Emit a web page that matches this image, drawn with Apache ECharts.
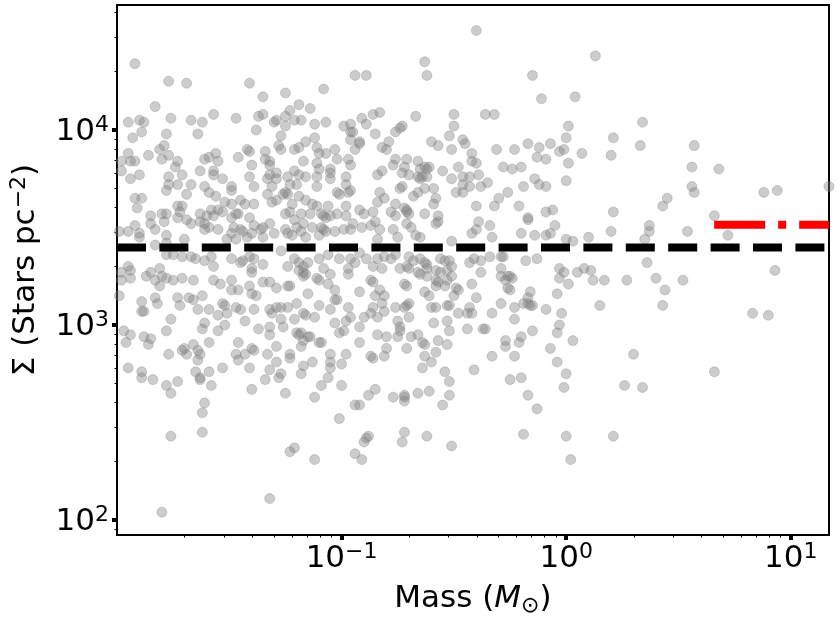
<!DOCTYPE html>
<html>
<head>
<meta charset="utf-8">
<script src="https://cdn.jsdelivr.net/npm/echarts@6/dist/echarts.min.js"></script>
<style>
  html, body { margin: 0; padding: 0; background: #fff; }
  #chart { width: 836px; height: 622px; }
</style>
</head>
<body>
<div id="chart"></div>
<script>
// every star as [log10(mass / Msun), log10(Sigma / stars pc^-2)]
var starsLog = [
  [-1.92,4.34],[-1.77,4.25],[-1.69,4.24],[-1.41,4.24],[-1.35,4.17],[-1.25,4.19],[-1.08,4.21],[-0.94,4.28],
  [-1.83,4.12],[-1.76,4.06],[-1.95,4.04],[-1.90,4.05],[-1.88,4.04],[-1.67,4.05],[-1.62,4.04],[-1.57,4.08],
  [-1.47,4.06],[-1.37,4.07],[-1.35,4.08],[-1.30,4.04],[-1.29,4.05],[-1.25,4.07],[-1.23,4.10],[-1.19,4.13],
  [-1.14,4.11],[-1.21,4.05],[-1.18,4.05],[-1.25,4.02],[-1.12,4.03],[-1.07,4.04],[-0.99,4.02],[-0.96,4.03],
  [-1.89,3.99],[-1.78,3.98],[-1.64,3.98],[-1.38,4.00],[-1.27,3.97],[-1.12,3.96],[-0.96,3.99],[-0.95,3.99],
  [-0.96,3.95],[-1.93,3.96],[-1.95,3.88],[-1.86,3.87],[-1.81,3.90],[-1.79,3.92],[-1.80,3.85],[-1.77,3.87],
  [-1.73,3.84],[-1.74,3.81],[-1.98,3.84],[-1.94,3.84],[-1.92,3.84],[-1.98,3.79],[-1.94,3.75],[-1.90,3.77],
  [-1.77,3.76],[-1.71,3.77],[-1.63,3.79],[-1.61,3.85],[-1.59,3.86],[-1.56,3.88],[-1.55,3.84],[-1.57,3.79],
  [-1.57,3.77],[-1.53,3.75],[-1.46,3.86],[-1.42,3.90],[-1.41,3.89],[-1.40,3.82],[-1.34,3.89],[-1.34,3.85],
  [-1.32,3.84],[-1.32,3.82],[-1.28,3.92],[-1.27,3.90],[-1.21,3.90],[-1.19,3.91],[-1.16,3.94],[-1.11,3.91],
  [-1.10,3.88],[-1.07,3.88],[-1.03,3.90],[-1.02,3.85],[-0.97,3.85],[-0.94,3.90],[-0.96,3.82],[-1.17,3.84],
  [-1.11,3.83],[-1.10,3.80],[-1.05,3.80],[-1.05,3.78],[-1.21,3.79],[-1.19,3.77],[-1.16,3.76],[-1.11,3.76],
  [-1.05,3.75],[-0.98,3.76],[-1.41,3.76],[-1.32,3.77],[-1.29,3.78],[-1.29,3.75],[-1.24,3.76],[-1.33,3.75],
  [-0.40,4.51],[-0.63,4.35],[-0.62,4.28],[-0.89,4.28],[-0.15,4.28],[-0.11,4.16],[0.04,4.17],[0.13,4.38],
  [-0.91,4.06],[-0.86,4.08],[-0.83,4.09],[-0.89,4.03],[-0.67,4.07],[-0.50,4.08],[-0.36,4.08],[-0.32,4.08],
  [-0.50,4.02],[-0.52,3.97],[0.01,4.02],[0.00,3.96],[-0.85,3.98],[-0.76,3.99],[-0.73,4.02],[-0.74,4.01],
  [-0.92,3.94],[-0.92,3.93],[-0.79,3.94],[-0.82,3.91],[-0.80,3.90],[-0.76,3.85],[-0.71,3.85],[-0.77,3.82],
  [-0.72,3.81],[-0.73,3.78],[-0.70,3.77],[-0.82,3.79],[-0.84,3.77],[-0.66,3.84],[-0.65,3.80],[-0.63,3.81],
  [-0.62,3.80],[-0.61,3.81],[-0.66,3.76],[-0.65,3.75],[-0.64,3.76],[-0.62,3.76],[-0.60,3.94],[-0.57,3.92],
  [-0.51,3.90],[-0.46,3.95],[-0.45,3.93],[-0.42,3.88],[-0.42,3.84],[-0.40,3.83],[-0.48,3.81],[-0.55,3.79],
  [-0.51,3.75],[-0.46,3.76],[-0.43,3.76],[-0.39,3.77],[-0.35,3.73],[-0.31,3.90],[-0.23,3.90],[-0.17,3.93],
  [-0.12,3.91],[-0.07,3.93],[-0.03,3.89],[-0.01,3.90],[0.07,3.88],[-0.13,3.86],[-0.09,3.85],[0.01,3.83],
  [-0.28,3.81],[-0.24,3.80],[-0.20,3.81],[-0.14,3.75],[0.00,3.74],
  [0.34,4.04],[0.21,3.96],[0.33,3.92],[0.20,3.87],[0.57,3.92],[0.56,3.81],[0.68,3.80],
  [-1.77,3.72],[-1.73,3.72],[-1.67,3.72],[-1.61,3.71],[-1.49,3.71],[-1.49,3.69],[-1.39,3.71],[-1.31,3.71],
  [-1.23,3.72],[-1.20,3.72],[-1.11,3.71],[-0.98,3.72],[-1.78,3.69],[-1.69,3.67],[-1.59,3.68],[-1.56,3.66],
  [-1.45,3.64],[-1.33,3.67],[-1.26,3.67],[-1.25,3.68],[-1.24,3.67],[-1.19,3.66],[-1.16,3.64],[-1.02,3.68],
  [-1.01,3.67],[-0.97,3.68],[-0.96,3.69],[-1.92,3.65],[-1.89,3.65],[-1.91,3.60],[-1.52,3.63],[-1.49,3.62],
  [-1.43,3.62],[-1.39,3.62],[-1.31,3.63],[-1.29,3.64],[-1.22,3.62],[-1.13,3.62],[-1.11,3.61],[-1.06,3.61],
  [-0.98,3.61],[-1.73,3.61],[-1.71,3.61],[-1.72,3.58],[-1.85,3.56],[-1.80,3.57],[-1.78,3.57],[-1.79,3.53],
  [-1.85,3.52],[-1.92,3.51],[-1.99,3.48],[-1.95,3.48],[-1.90,3.47],[-1.90,3.45],[-1.83,3.49],[-1.78,3.46],
  [-1.73,3.55],[-1.69,3.54],[-1.67,3.52],[-1.63,3.57],[-1.63,3.53],[-1.61,3.52],[-1.60,3.56],[-1.58,3.59],
  [-1.57,3.56],[-1.55,3.59],[-1.53,3.58],[-1.55,3.49],[-1.61,3.49],[-1.59,3.50],[-1.49,3.55],[-1.47,3.57],
  [-1.46,3.57],[-1.48,3.50],[-1.45,3.49],[-1.44,3.48],[-1.49,3.47],[-1.51,3.44],[-1.41,3.55],[-1.39,3.51],
  [-1.35,3.50],[-1.36,3.49],[-1.32,3.52],[-1.30,3.47],[-1.40,3.47],[-1.35,3.45],[-1.25,3.57],[-1.23,3.58],
  [-1.21,3.54],[-1.18,3.57],[-1.20,3.50],[-1.17,3.52],[-1.18,3.48],[-1.25,3.49],[-1.24,3.47],[-1.22,3.46],
  [-1.14,3.57],[-1.09,3.57],[-1.08,3.56],[-1.07,3.55],[-1.05,3.56],[-1.02,3.57],[-0.98,3.56],[-1.13,3.50],
  [-1.09,3.50],[-1.08,3.49],[-1.07,3.48],[-1.03,3.48],[-0.99,3.49],[-0.95,3.52],[-0.96,3.49],[-1.16,3.45],
  [-1.10,3.46],[-1.42,3.45],[-1.47,3.44],[-1.70,3.44],[-1.78,3.42],[-1.83,3.41],
  [-1.78,3.36],[-1.75,3.36],[-1.71,3.35],[-1.67,3.35],[-1.65,3.34],[-1.61,3.33],[-1.58,3.35],[-1.57,3.30],
  [-1.49,3.34],[-1.45,3.32],[-1.44,3.33],[-1.41,3.35],[-1.39,3.34],[-1.40,3.29],[-1.40,3.27],[-1.35,3.31],
  [-1.27,3.38],[-1.21,3.34],[-1.24,3.30],[-1.19,3.32],[-1.17,3.30],[-1.17,3.27],[-1.16,3.26],[-1.15,3.32],
  [-1.10,3.34],[-1.06,3.36],[-1.01,3.34],[-0.96,3.34],[-0.97,3.29],[-0.94,3.32],[-1.95,3.30],[-1.94,3.28],
  [-1.98,3.27],[-1.98,3.23],[-1.94,3.24],[-1.87,3.25],[-1.85,3.27],[-1.83,3.23],[-1.81,3.29],[-1.80,3.25],
  [-1.78,3.24],[-1.75,3.23],[-1.81,3.20],[-1.71,3.24],[-1.66,3.23],[-1.99,3.15],[-1.57,3.23],[-1.54,3.21],
  [-1.49,3.23],[-1.49,3.18],[-1.46,3.18],[-1.41,3.20],[-1.40,3.16],[-1.38,3.15],[-1.35,3.22],[-1.32,3.22],
  [-1.29,3.19],[-1.24,3.20],[-1.23,3.20],[-1.15,3.16],[-1.11,3.24],[-1.10,3.23],[-1.06,3.21],[-1.05,3.26],
  [-1.03,3.18],[-1.02,3.13],[-0.97,3.26],[-1.08,3.29],[-1.19,3.28],[-1.17,3.25],[-1.89,3.12],[-1.83,3.14],
  [-1.82,3.11],[-1.89,3.07],[-1.88,3.07],[-1.76,3.03],[-1.78,2.97],[-1.73,3.14],[-1.72,3.10],[-1.68,3.14],
  [-1.66,3.13],[-1.64,3.08],[-1.62,3.15],[-1.59,3.08],[-1.55,3.05],[-1.53,3.11],[-1.52,3.10],[-1.51,3.06],
  [-1.47,3.09],[-1.45,3.08],[-1.39,3.08],[-1.43,3.02],[-1.37,2.98],[-1.32,3.08],[-1.29,3.09],[-1.27,3.09],
  [-1.31,3.06],[-1.27,3.03],[-1.26,2.99],[-1.32,2.99],[-1.32,2.95],[-1.24,3.09],[-1.20,3.11],[-1.17,3.06],
  [-1.16,3.05],[-1.12,3.04],[-1.10,3.10],[-1.05,3.08],[-1.03,3.13],[-0.97,3.09],[-0.96,3.04],[-0.98,3.02],
  [-1.21,3.03],[-1.20,2.96],[-1.17,2.92],[-1.15,2.94],[-1.10,2.91],[-1.03,3.01],[-1.01,2.96],[-0.99,2.97],
  [-1.97,2.97],[-1.94,2.95],[-1.96,2.91],[-1.88,2.94],[-1.85,2.93],[-1.86,2.90],[-1.77,2.85],[-1.70,2.88],
  [-1.71,2.87],[-1.69,2.85],[-1.66,2.90],[-1.64,2.87],[-1.63,2.85],[-1.61,3.01],[-1.62,2.98],[-1.59,2.91],
  [-1.55,2.97],[-1.52,3.00],[-1.46,2.91],[-1.47,2.85],[-1.43,2.85],[-1.40,2.88],[-1.39,2.87],[-1.33,2.85],
  [-1.29,2.89],[-1.23,2.85],[-1.19,2.95],[-1.18,2.96],[-1.18,2.89],[-1.14,2.94],[-1.09,2.91],[-1.05,2.85],
  [-0.98,2.85],
  [-0.74,3.70],[-0.73,3.71],[-0.83,3.68],[-0.81,3.65],[-0.84,3.63],[-0.76,3.62],[-0.68,3.66],[-0.66,3.68],
  [-0.63,3.70],[-0.59,3.70],[-0.58,3.65],[-0.59,3.62],[-0.49,3.68],[-0.46,3.68],[-0.46,3.72],[-0.43,3.71],
  [-0.38,3.71],[-0.26,3.68],[-0.30,3.65],[-0.32,3.61],[-0.40,3.61],[-0.21,3.61],[-0.19,3.71],[-0.12,3.72],
  [-0.09,3.71],[-0.92,3.59],[-0.90,3.57],[-0.86,3.58],[-0.78,3.58],[-0.76,3.56],[-0.72,3.60],[-0.71,3.59],
  [-0.71,3.58],[-0.70,3.57],[-0.63,3.57],[-0.57,3.56],[-0.58,3.52],[-0.57,3.53],[-0.91,3.50],[-0.87,3.51],
  [-0.85,3.53],[-0.83,3.49],[-0.77,3.49],[-0.75,3.45],[-0.71,3.52],[-0.69,3.50],[-0.67,3.46],[-0.65,3.45],
  [-0.51,3.43],[-0.40,3.49],[-0.39,3.53],[-0.34,3.51],[-0.33,3.45],[-0.42,3.47],[-0.17,3.55],[-0.17,3.54],
  [-0.20,3.47],[-0.14,3.46],[-0.09,3.46],[-0.07,3.47],[-0.09,3.58],[-0.06,3.59],[-0.05,3.51],[0.00,3.44],
  [0.03,3.43],[0.10,3.45],[-0.84,3.44],
  [-0.92,3.37],[-0.89,3.34],[-0.84,3.34],[-0.81,3.35],[-0.78,3.34],[-0.76,3.36],[-0.70,3.35],[-0.68,3.33],
  [-0.65,3.34],[-0.63,3.32],[-0.62,3.31],[-0.56,3.34],[-0.54,3.33],[-0.52,3.33],[-0.43,3.32],[-0.41,3.34],
  [-0.38,3.33],[-0.34,3.35],[-0.29,3.35],[-0.28,3.35],[-0.18,3.33],[-0.13,3.34],[-0.86,3.30],[-0.82,3.29],
  [-0.74,3.29],[-0.71,3.30],[-0.70,3.29],[-0.66,3.27],[-0.62,3.29],[-0.58,3.28],[-0.56,3.27],[-0.53,3.28],
  [-0.51,3.30],[-0.38,3.27],[-0.29,3.29],[-0.26,3.25],[-0.03,3.29],[-0.03,3.24],[-0.01,3.27],[0.05,3.27],
  [0.08,3.29],[0.11,3.28],[0.12,3.23],[-0.87,3.23],[-0.86,3.22],[-0.92,3.17],[-0.85,3.15],[-0.83,3.18],
  [-0.71,3.20],[-0.72,3.21],[-0.65,3.26],[-0.62,3.25],[-0.58,3.23],[-0.57,3.22],[-0.53,3.23],[-0.51,3.25],
  [-0.54,3.20],[-0.58,3.20],[-0.49,3.19],[-0.48,3.18],[-0.42,3.21],[-0.40,3.14],[-0.50,3.15],[-0.61,3.15],
  [-0.63,3.17],[-0.29,3.25],[-0.27,3.23],[-0.25,3.25],[-0.24,3.24],[-0.26,3.19],[-0.25,3.18],[-0.16,3.17],
  [-0.17,3.14],[-0.17,3.11],[-0.16,3.10],[-0.15,3.10],[-0.19,3.11],[-0.29,3.11],[-0.23,3.09],[-0.04,3.16],
  [0.01,3.21],[-0.09,3.08],[-0.02,3.06],[-0.03,3.00],[-0.04,2.96],[0.03,2.92],[-0.81,3.15],[-0.82,3.11],
  [-0.81,3.07],[-0.86,3.09],[-0.87,3.06],[-0.90,3.04],[-0.92,2.99],[-0.84,3.04],[-0.76,3.09],[-0.75,3.02],
  [-0.74,2.99],[-0.74,2.97],[-0.70,3.11],[-0.71,3.10],[-0.72,3.09],[-0.70,3.04],[-0.60,3.09],[-0.58,3.09],
  [-0.53,3.10],[-0.52,3.10],[-0.59,3.01],[-0.53,3.02],[-0.52,2.97],[-0.48,3.06],[-0.44,3.06],[-0.42,3.06],
  [-0.43,3.09],[-0.44,2.98],[-0.37,2.98],[-0.36,2.98],[-0.33,3.06],[-0.23,3.03],[-0.15,2.97],[-0.84,2.95],
  [-0.80,2.94],[-0.75,2.94],[-0.69,2.94],[-0.66,2.95],[-0.64,2.91],[-0.63,2.90],[-0.71,2.88],[-0.80,2.88],
  [-0.81,2.84],[-0.87,2.84],[-0.86,2.83],[-0.92,2.91],[-0.57,2.92],[-0.53,2.90],[-0.58,2.86],[-0.63,2.84],
  [-0.27,2.92],[-0.27,2.89],[-0.21,2.91],[-0.20,2.94],[-0.33,2.84],[-0.23,2.84],[-0.07,2.88],
  [0.56,3.71],[0.57,3.68],[0.45,3.65],[0.43,3.61],[0.21,3.58],[0.20,3.48],[0.37,3.51],[0.37,3.48],
  [0.35,3.44],[0.54,3.48],[0.66,3.56],[0.72,3.46],[0.88,3.68],[0.94,3.69],[1.17,3.71],[0.36,3.32],
  [0.17,3.23],[0.27,3.23],[0.40,3.24],[0.44,3.18],[0.52,3.23],[0.93,3.28],[0.15,3.10],[0.43,3.10],
  [0.83,3.06],[0.90,3.05],[0.30,2.85],
  [-1.95,2.78],[-1.89,2.76],[-1.89,2.73],[-1.84,2.72],[-1.78,2.69],[-1.76,2.65],[-1.73,2.71],[-1.64,2.82],
  [-1.65,2.76],[-1.63,2.73],[-1.63,2.72],[-1.59,2.76],[-1.58,2.69],[-1.61,2.60],[-1.62,2.55],[-1.62,2.45],
  [-1.76,2.43],[-1.53,2.78],[-1.46,2.82],[-1.41,2.78],[-1.40,2.67],[-1.34,2.72],[-1.32,2.77],[-1.29,2.81],
  [-1.28,2.73],[-1.27,2.75],[-1.23,2.83],[-1.25,2.65],[-1.18,2.75],[-1.17,2.79],[-1.13,2.81],[-1.09,2.69],
  [-1.06,2.73],[-1.05,2.81],[-1.05,2.78],[-1.00,2.80],[-1.00,2.69],[-1.12,2.63],[-1.01,2.52],[-0.94,2.59],
  [-0.94,2.34],[-1.23,2.35],[-1.21,2.37],[-1.12,2.31],[-1.32,2.11],[-1.80,2.04],
  [-0.64,2.78],[-0.60,2.81],[-0.54,2.76],[-0.52,2.71],[-0.52,2.64],[-0.55,2.59],[-0.61,2.66],[-0.66,2.65],
  [-0.72,2.64],[-0.72,2.63],[-0.72,2.61],[-0.77,2.63],[-0.85,2.67],[-0.88,2.64],[-0.92,2.59],[-0.41,2.77],
  [-0.25,2.72],[-0.20,2.73],[-0.17,2.64],[-0.13,2.57],[-0.04,2.81],[0.00,2.75],[-0.01,2.68],[-0.72,2.45],
  [-0.73,2.40],[-0.62,2.43],[-0.51,2.38],[-0.89,2.42],[-0.88,2.43],[-0.90,2.40],[-0.91,2.31],[-0.19,2.44],
  [0.00,2.43],[0.02,2.31],
  [0.66,2.76],[0.26,2.69],[0.34,2.68],[0.21,2.43]
];

var meanSigma = 2500;          // black dashed line
var highMassSigma = 3270;      // red dash-dot line
var highMassRange = [4.56, 14.8];
var massRange = [0.01, 14.8];
var sigmaRange = [83.8, 43750];

var massTicks = [0.1, 1, 10];
var sigmaTicks = [100, 1000, 10000];
var massMinorTicks = [0.02, 0.03, 0.04, 0.05, 0.06, 0.07, 0.08, 0.09,
                      0.2, 0.3, 0.4, 0.5, 0.6, 0.7, 0.8, 0.9,
                      2, 3, 4, 5, 6, 7, 8, 9];
var sigmaMinorTicks = [90, 200, 300, 400, 500, 600, 700, 800, 900,
                       2000, 3000, 4000, 5000, 6000, 7000, 8000, 9000,
                       20000, 30000, 40000];

var stars = starsLog.map(function (p) {
    return [Math.pow(10, p[0]), Math.pow(10, p[1])];
});

var FONT = 'DejaVu Sans';

function powerLabel(v) {
    var e = Math.round(Math.log(v) / Math.LN10);
    return '{b|10}{s|' + String(e).replace('-', '\u2212') + '}';
}

var powerRich = {
    b: { fontFamily: FONT, fontSize: 31, color: '#000', lineHeight: 36 },
    s: { fontFamily: FONT, fontSize: 22, color: '#000', lineHeight: 16, verticalAlign: 'top' }
};

var myChart = echarts.init(document.getElementById('chart'));

var option = {
    backgroundColor: '#fff',
    animation: false,
    textStyle: { fontFamily: FONT },
    grid: {
        left: 117, right: 7, top: 5, bottom: 87,
        show: true, borderColor: '#000', borderWidth: 2, backgroundColor: 'transparent'
    },
    xAxis: [
        {
            type: 'log', logBase: 10, min: massRange[0], max: massRange[1], position: 'bottom',
            axisLine: { show: true, onZero: false, lineStyle: { color: '#000', width: 2 } },
            axisTick: { show: true, length: 5, customValues: massTicks, lineStyle: { color: '#000', width: 4 } },
            axisLabel: { customValues: massTicks, formatter: powerLabel, margin: 6, rich: powerRich },
            splitLine: { show: false },
            name: '{a|Mass (}{i|M}{o|\u2299}{a|)}',
            nameLocation: 'middle',
            nameGap: 46,
            nameTextStyle: {
                rich: {
                    a: { fontFamily: FONT, fontSize: 31, color: '#000', lineHeight: 36 },
                    i: { fontFamily: FONT, fontSize: 31, fontStyle: 'italic', color: '#000', lineHeight: 36 },
                    o: { fontFamily: FONT, fontSize: 22, color: '#000', lineHeight: 19, verticalAlign: 'bottom' }
                }
            }
        },
        {
            type: 'log', logBase: 10, min: massRange[0], max: massRange[1], position: 'bottom',
            axisLine: { show: false, onZero: false },
            axisTick: { show: true, length: 2.5, customValues: massMinorTicks, lineStyle: { color: '#000', width: 1 } },
            axisLabel: { show: false },
            splitLine: { show: false }
        }
    ],
    yAxis: [
        {
            type: 'log', logBase: 10, min: sigmaRange[0], max: sigmaRange[1], position: 'left',
            axisLine: { show: true, onZero: false, lineStyle: { color: '#000', width: 2 } },
            axisTick: { show: true, length: 5, customValues: sigmaTicks, lineStyle: { color: '#000', width: 4 } },
            axisLabel: { customValues: sigmaTicks, formatter: powerLabel, margin: 8, padding: [4, 0, 0, 0], rich: powerRich },
            splitLine: { show: false },
            name: '{a|\u03a3 (Stars pc}{s|\u22122}{a|)}',
            nameLocation: 'middle',
            nameGap: 73,
            nameTextStyle: {
                rich: {
                    a: { fontFamily: FONT, fontSize: 31, color: '#000', lineHeight: 36 },
                    s: { fontFamily: FONT, fontSize: 22, color: '#000', lineHeight: 16, verticalAlign: 'top' }
                }
            }
        },
        {
            type: 'log', logBase: 10, min: sigmaRange[0], max: sigmaRange[1], position: 'left',
            axisLine: { show: false, onZero: false },
            axisTick: { show: true, length: 2.5, customValues: sigmaMinorTicks, lineStyle: { color: '#000', width: 1 } },
            axisLabel: { show: false },
            splitLine: { show: false }
        }
    ],
    series: [
        {
            type: 'scatter',
            xAxisIndex: 0, yAxisIndex: 0,
            data: stars,
            symbolSize: 10,
            clip: true,
            itemStyle: { color: 'rgba(128,128,128,0.5)', borderColor: 'rgba(128,128,128,0.5)', borderWidth: 0.8 }
        },
        {
            type: 'line',
            xAxisIndex: 0, yAxisIndex: 0,
            data: [[massRange[0], meanSigma], [massRange[1], meanSigma]],
            showSymbol: false, silent: true,
            lineStyle: { color: '#000', width: 8, type: [29, 13.4] }
        },
        {
            type: 'line',
            xAxisIndex: 0, yAxisIndex: 0,
            data: [[highMassRange[0], highMassSigma], [highMassRange[1], highMassSigma]],
            showSymbol: false, silent: true,
            lineStyle: { color: '#ff0000', width: 8, type: [51, 13, 8, 13] }
        }
    ]
};

myChart.setOption(option);
</script>
</body>
</html>
